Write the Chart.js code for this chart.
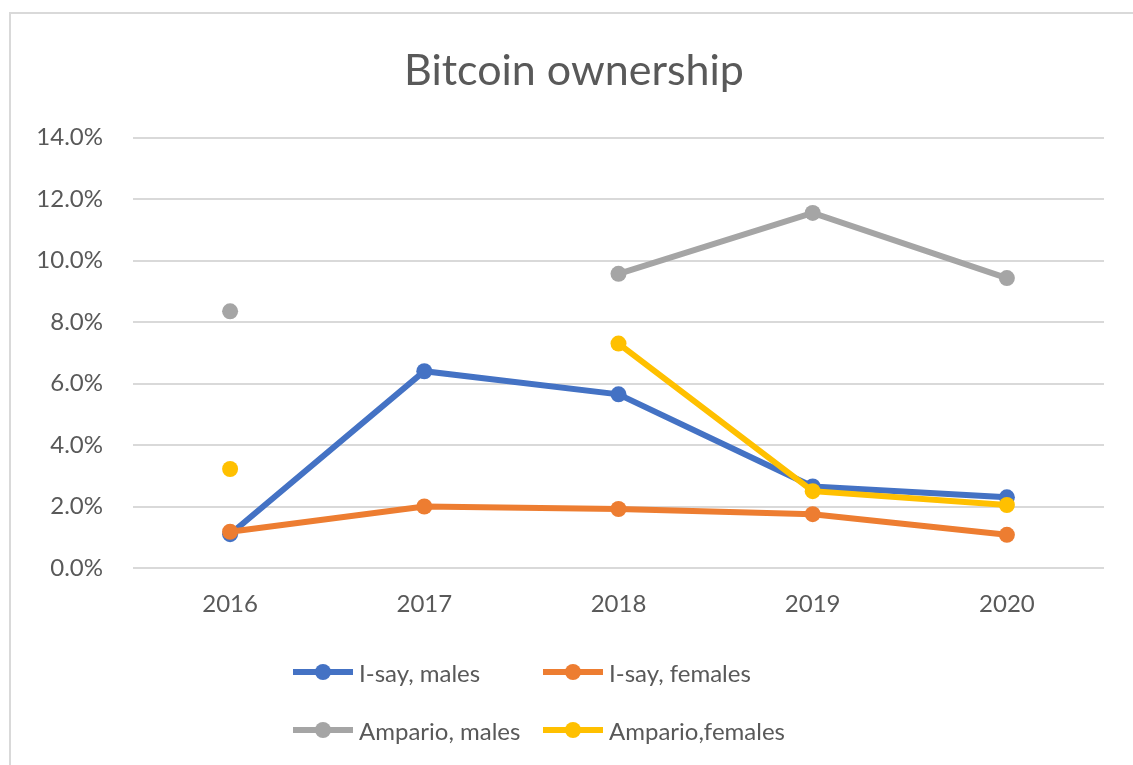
<!DOCTYPE html>
<html>
<head>
<meta charset="utf-8">
<script src="https://cdn.jsdelivr.net/npm/chart.js@4"></script>
<style>
    html, body { margin: 0; padding: 0; background: #fff; }
    #wrap { position: relative; width: 1133px; height: 765px; overflow: hidden; font-family: Lato, sans-serif; }
    #frame { position: absolute; left: 9px; top: 12px; width: 1140px; height: 800px; border: 2px solid #d9d9d9; box-sizing: border-box; }
    #grafico { position: absolute; left: 0; top: 0; }
    #legenda { position: absolute; left: 293px; top: 643px; width: 520px; }
    .item { position: absolute; height: 58px; display: flex; align-items: center; font-size: 24px; color: #595959; white-space: nowrap; }
    .amostra { position: relative; width: 60px; height: 6px; margin-right: 6px; }
    .amostra span { position: absolute; left: 22px; top: -5px; width: 16px; height: 16px; border-radius: 50%; }
</style>
</head>
<body>
<div id="wrap">
    <div id="frame"></div>
    <canvas id="grafico" width="1133" height="765"></canvas>
    <div id="legenda"></div>
</div>
<script>
// dados (percentual)
const anos = ['2016', '2017', '2018', '2019', '2020'];
const isayHomens = [1.1, 6.4, 5.65, 2.65, 2.3];
const isayMulheres = [1.18, 2.0, 1.92, 1.75, 1.08];
const amparioHomens = [8.35, null, 9.57, 11.55, 9.43];
const amparioMulheres = [3.22, null, 7.3, 2.5, 2.05];
const nomes = ['I-say, males', 'I-say, females', 'Ampario, males', 'Ampario,females'];
const cores = ['#4472C4', '#ED7D31', '#A5A5A5', '#FFC000'];

const series = [isayHomens, isayMulheres, amparioHomens, amparioMulheres];

const datasets = series.map((valores, i) => ({
    label: nomes[i],
    data: valores,
    borderColor: cores[i],
    backgroundColor: cores[i],
    borderWidth: 6,
    pointRadius: 8,
    pointBorderWidth: 0,
    pointHoverRadius: 8,
    spanGaps: false,
    tension: 0,
    order: 4 - i
}));

// empurra o título um pouco pra direita (no original ele fica centrado na moldura)
const moverTitulo = {
    id: 'moverTitulo',
    afterLayout(chart) {
        if (chart.titleBlock) chart.titleBlock.left += 44;
    }
};

const ctx = document.getElementById('grafico').getContext('2d');

new Chart(ctx, {
    type: 'line',
    data: { labels: anos, datasets: datasets },
    plugins: [moverTitulo],
    options: {
        responsive: false,
        animation: false,
        layout: { padding: { left: 0, right: 29, top: 13, bottom: 0 } },
        plugins: {
            legend: { display: false },
            tooltip: { enabled: false },
            title: {
                display: true,
                text: 'Bitcoin ownership',
                color: '#595959',
                font: { family: 'Lato', size: 43, weight: 'normal', lineHeight: 1.2 },
                padding: { top: 32, bottom: 41 }
            }
        },
        scales: {
            x: {
                offset: true,
                grid: { display: false, drawTicks: false },
                border: { display: false },
                ticks: { color: '#595959', font: { family: 'Lato', size: 24 }, padding: 22 },
                afterFit: s => { s.height = 197; }
            },
            y: {
                min: 0,
                max: 14,
                grid: { color: '#d9d9d9', lineWidth: 2, drawTicks: false },
                border: { display: false },
                ticks: {
                    stepSize: 2,
                    color: '#595959',
                    font: { family: 'Lato', size: 24 },
                    padding: 30,
                    callback: v => v.toFixed(1) + '%'
                },
                afterFit: s => { s.width = 133; }
            }
        }
    }
});

// legenda em duas colunas, como no original
const legenda = document.getElementById('legenda');
nomes.forEach((nome, i) => {
    const item = document.createElement('div');
    item.className = 'item';
    item.style.left = (i % 2) * 250 + 'px';
    item.style.top = Math.floor(i / 2) * 58 + 'px';
    item.innerHTML = '<div class="amostra" style="background:' + cores[i] + '"><span style="background:' + cores[i] + '"></span></div>' + nome;
    legenda.appendChild(item);
});
</script>
</body>
</html>
